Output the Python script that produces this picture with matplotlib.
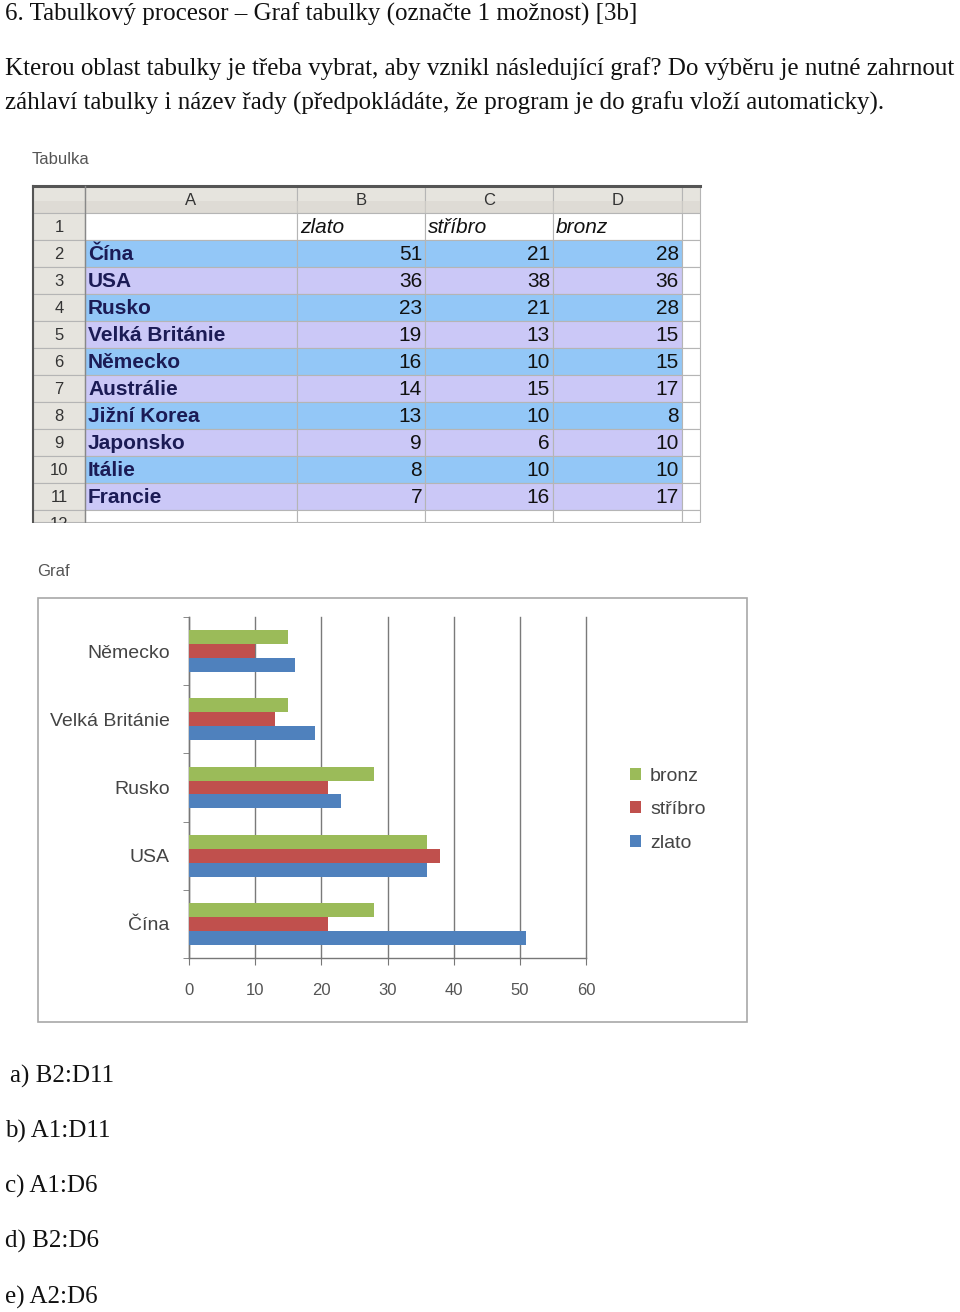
import matplotlib
matplotlib.use("Agg")
import matplotlib.pyplot as plt
from matplotlib.patches import Rectangle

# ---------------- data ----------------
countries = ['Čína', 'USA', 'Rusko', 'Velká Británie', 'Německo',
             'Austrálie', 'Jižní Korea', 'Japonsko', 'Itálie', 'Francie']
zlato = [51, 36, 23, 19, 16, 14, 13, 9, 8, 7]
stribro = [21, 38, 21, 13, 10, 15, 10, 6, 10, 16]
bronz = [28, 36, 28, 15, 15, 17, 8, 10, 10, 17]
series_names = ['zlato', 'stříbro', 'bronz']
col_letters = ['A', 'B', 'C', 'D']
row_numbers = [str(i) for i in range(1, 13)]
n_chart = 5
x_ticks = [0, 10, 20, 30, 40, 50, 60]

title = "6. Tabulkový procesor – Graf tabulky (označte 1 možnost) [3b]"
question_1 = "Kterou oblast tabulky je třeba vybrat, aby vznikl následující graf? Do výběru je nutné zahrnout"
question_2 = "záhlaví tabulky i název řady (předpokládáte, že program je do grafu vloží automaticky)."
options = ["a) B2:D11", "b) A1:D11", "c) A1:D6", "d) B2:D6", "e) A2:D6"]

# ---------------- style ----------------
SERIF = ['Liberation Serif', 'DejaVu Serif']
NARROW = ['Liberation Sans Narrow', 'Liberation Sans', 'DejaVu Sans']
C_BLUE_ROW = '#93C7F7'
C_LAV_ROW = '#CBC8F7'
C_HEAD = '#E6E4DE'
C_GRID = '#B5B5B5'
BAR_COLORS = {'zlato': '#4F81BD', 'stříbro': '#C0504D', 'bronz': '#9BBB59'}

W, H = 960, 1312
fig = plt.figure(figsize=(W / 100, H / 100), dpi=100)
base = fig.add_axes([0, 0, 1, 1])
base.set_xlim(0, W)
base.set_ylim(H, 0)
base.axis('off')

# ---------------- text ----------------
FS = 18
base.text(5, 14, title, family=SERIF, fontsize=FS, va='center', ha='left', color='#111')
base.text(5, 69, question_1, family=SERIF, fontsize=FS, va='center', ha='left', color='#111')
base.text(5, 103, question_2, family=SERIF, fontsize=FS, va='center', ha='left', color='#111')
opt_x = [10, 5, 5, 5, 5]
for i, o in enumerate(options):
    base.text(opt_x[i], 1076 + i * 55.3, o, family=SERIF, fontsize=FS, va='center', ha='left', color='#111')

# ---------------- table ----------------
base.text(32, 160, "Tabulka", family=NARROW, fontsize=12, va='center', ha='left', color='#555')
col_edges = [33, 85, 297, 425, 553, 682, 700]
top = 186
head_h = 27
row_h = 27
row1_top = top + head_h
table_bottom = 522

# header row
for j in range(len(col_edges) - 1):
    x0, x1 = col_edges[j], col_edges[j + 1]
    base.add_patch(Rectangle((x0, top), x1 - x0, head_h, facecolor=C_HEAD, edgecolor=C_GRID, lw=0.8))
    base.add_patch(Rectangle((x0, top + head_h * 0.55), x1 - x0, head_h * 0.45, facecolor='#D9D6CF', edgecolor='none', alpha=0.6))
for j, letter in enumerate(col_letters):
    xc = (col_edges[j + 1] + col_edges[j + 2]) / 2
    base.text(xc, top + head_h / 2 + 1, letter, family=NARROW, fontsize=12, ha='center', va='center', color='#333')

# rows
n_rows = len(row_numbers)
for i in range(n_rows):
    y0 = row1_top + i * row_h
    h = row_h if y0 + row_h <= table_bottom else table_bottom - y0
    base.add_patch(Rectangle((col_edges[0], y0), col_edges[1] - col_edges[0], h, facecolor=C_HEAD, edgecolor=C_GRID, lw=0.8))
    if i == 0:
        fc = 'white'
    elif i <= len(countries):
        fc = C_BLUE_ROW if (i % 2 == 1) else C_LAV_ROW
    else:
        fc = 'white'
    for j in range(1, len(col_edges) - 1):
        x0, x1 = col_edges[j], col_edges[j + 1]
        this_fc = fc if j < len(col_edges) - 2 else 'white'
        base.add_patch(Rectangle((x0, y0), x1 - x0, h, facecolor=this_fc, edgecolor=C_GRID, lw=0.8))
    base.text((col_edges[0] + col_edges[1]) / 2, y0 + row_h / 2 + 1, row_numbers[i], family=NARROW,
              fontsize=12, ha='center', va='center', color='#333')

# cut off the partially visible last row
base.add_patch(Rectangle((0, table_bottom + 0.5), W, 30, facecolor='white', edgecolor='none', zorder=5))

# header row 1 (series names)
for k, name in enumerate(series_names):
    base.text(col_edges[2 + k] + 3, row1_top + row_h / 2 + 1, name, family=NARROW, style='italic',
              fontsize=15, ha='left', va='center', color='#111')

series_vals = [zlato, stribro, bronz]
for i, c in enumerate(countries):
    yc = row1_top + (i + 1) * row_h + row_h / 2 + 1
    base.text(col_edges[1] + 3, yc, c, family=NARROW, fontweight='bold', fontsize=15,
              ha='left', va='center', color='#1B1B55')
    for k in range(3):
        base.text(col_edges[3 + k] - 3, yc, str(series_vals[k][i]), family=NARROW, fontsize=15,
                  ha='right', va='center', color='#111')

# dark borders
base.plot([33, 700], [top, top], color='#555', lw=2.2)
base.plot([33, 33], [top, table_bottom], color='#555', lw=1.5)
base.plot([85, 85], [top, table_bottom], color='#888', lw=1.0)

# ---------------- chart ----------------
base.text(37, 572, "Graf", family=NARROW, fontsize=12, va='center', ha='left', color='#555')
base.add_patch(Rectangle((38, 598), 747 - 38, 1022 - 598, facecolor='white', edgecolor='#A8A8A8', lw=1.2))

ax_l, ax_r, ax_t, ax_b = 189, 586, 617, 958
ax = fig.add_axes([ax_l / W, 1 - ax_b / H, (ax_r - ax_l) / W, (ax_b - ax_t) / H])
ax.set_facecolor('none')
bar_h = 0.205
offsets = {'zlato': -bar_h, 'stříbro': 0.0, 'bronz': bar_h}
ypos = list(range(n_chart))
handles = {}
for name, vals in zip(series_names, series_vals):
    handles[name] = ax.barh([y + offsets[name] for y in ypos], vals[:n_chart], height=bar_h,
                            color=BAR_COLORS[name], zorder=3, label=name)
ax.set_xlim(x_ticks[0], x_ticks[-1])
ax.set_ylim(-0.5, n_chart - 0.5)
ax.set_xticks(x_ticks)
ax.set_xticklabels([str(t) for t in x_ticks], family=NARROW, fontsize=12, color='#555')
ax.xaxis.grid(True, color='#7A7A7A', lw=1.0, zorder=0)
for gl in ax.get_xgridlines():
    gl.set_clip_on(False)
ax.set_axisbelow(True)
ax.set_yticks(ypos)
ax.set_yticklabels(countries[:n_chart], family=NARROW, fontsize=14, color='#444')
ax.set_yticks([y - 0.5 for y in range(n_chart + 1)], minor=True)
ax.tick_params(axis='y', which='major', length=0, pad=14)
ax.tick_params(axis='y', which='minor', length=4, color='#777', direction='out')
ax.tick_params(axis='x', length=5, color='#777', direction='out', pad=13)
for s in ['top', 'right']:
    ax.spines[s].set_visible(False)
for s in ['left', 'bottom']:
    ax.spines[s].set_color('#777')
    ax.spines[s].set_linewidth(1.0)

leg = fig.legend([handles[n] for n in ['bronz', 'stříbro', 'zlato']], ['bronz', 'stříbro', 'zlato'],
                 loc='upper left', bbox_to_anchor=(612 / W, 1 - 750 / H), frameon=False,
                 handlelength=0.6, handleheight=0.6, handletextpad=0.45, labelspacing=0.85,
                 prop={'family': NARROW, 'size': 14})
for t in leg.get_texts():
    t.set_color('#444')

fig.savefig('out.png', dpi=100)
